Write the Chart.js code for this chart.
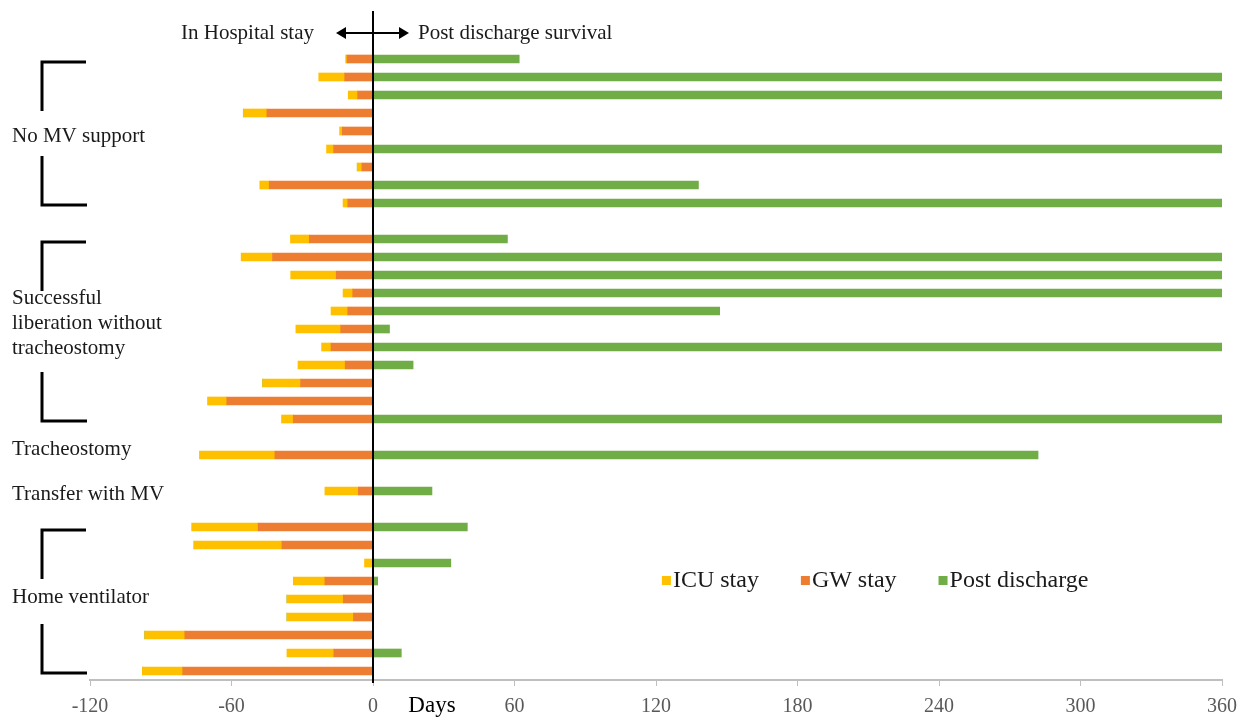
<!DOCTYPE html>
<html>
<head>
<meta charset="utf-8">
<script src="https://cdn.jsdelivr.net/npm/chart.js@4/dist/chart.umd.min.js"></script>
<style>
  html, body { margin: 0; padding: 0; background: #fff; }
  #wrap { width: 1248px; height: 717px; position: relative; }
</style>
</head>
<body>
<div id="wrap"><canvas id="stayChart"></canvas></div>
<script>
// one row per patient, null rows are the gaps between groups
const rows = [];
for (let i = 0; i < 35; i++) rows.push('r' + i);

// days in general ward (drawn to the left of 0)
const gwStay = [11, 12, 6.5, 45, 13, 16.7, 4.7, 44, 10.7, null,
  27, 42.6, 15.6, 8.6, 10.7, 13.7, 17.8, 11.8, 30.7, 62, 33.8, null,
  41.6, null, 6.2, null,
  48.7, 38.6, 0, 20.4, 12.6, 8.3, 79.8, 16.6, 80.7];

// days in ICU (stacked further left)
const icuStay = [0.6, 11, 4, 10, 1, 3, 2, 4, 2, null,
  8, 13.3, 19.3, 4.1, 7.1, 19, 4, 20, 16.1, 8, 5, null,
  32, null, 14.2, null,
  28.2, 37.3, 3.6, 13.4, 23.9, 28.2, 17, 19.9, 17.1];

// days of survival after discharge
const postDischarge = [62, 360, 360, 0, 0, 360, 0, 138, 360, null,
  57, 360, 360, 360, 147, 7, 360, 17, 0, 0, 360, null,
  282, null, 25, null,
  40, 0, 33, 2, 0, 0, 0, 12, 0];

const xTicks = [-120, -60, 0, 60, 120, 180, 240, 300, 360];

const groups = [
  { lines: ['No MV support'], row: 4, dy: 5, bracket: [0, 8] },
  { lines: ['Successful', 'liberation without', 'tracheostomy'], row: 15, dy: -6, bracket: [10, 20] },
  { lines: ['Tracheostomy'], row: 22, dy: -6, bracket: null },
  { lines: ['Transfer with MV'], row: 24, dy: 3, bracket: null },
  { lines: ['Home ventilator'], row: 30, dy: -2, bracket: [26, 34] }
];

const legendItems = [
  { text: 'ICU stay', color: '#FFC000' },
  { text: 'GW stay', color: '#ED7D31' },
  { text: 'Post discharge', color: '#70AD47' }
];

const serif = "'Liberation Serif', 'Times New Roman', serif";
const neg = arr => arr.map(v => v === null ? null : -v);

const decorations = {
  id: 'decorations',
  afterDatasetsDraw(chart) {
    const ctx = chart.ctx;
    const xs = chart.scales.x;
    const ys = chart.scales.y;
    const x0 = xs.getPixelForValue(0);
    ctx.save();

    // zero line
    ctx.strokeStyle = '#000';
    ctx.lineWidth = 2;
    ctx.beginPath();
    ctx.moveTo(x0, 11);
    ctx.lineTo(x0, chart.chartArea.bottom + 3);
    ctx.stroke();

    // double arrow + captions
    const ay = 33;
    const ax1 = x0 - 37, ax2 = x0 + 36;
    ctx.lineWidth = 2;
    ctx.beginPath();
    ctx.moveTo(ax1 + 4, ay);
    ctx.lineTo(ax2 - 4, ay);
    ctx.stroke();
    ctx.fillStyle = '#000';
    ctx.beginPath();
    ctx.moveTo(ax1, ay); ctx.lineTo(ax1 + 10, ay - 6); ctx.lineTo(ax1 + 10, ay + 6); ctx.closePath();
    ctx.moveTo(ax2, ay); ctx.lineTo(ax2 - 10, ay - 6); ctx.lineTo(ax2 - 10, ay + 6); ctx.closePath();
    ctx.fill();

    ctx.font = '21px ' + serif;
    ctx.fillStyle = '#1a1a1a';
    ctx.textBaseline = 'middle';
    ctx.textAlign = 'right';
    ctx.fillText('In Hospital stay', ax1 - 22, ay);
    ctx.textAlign = 'left';
    ctx.fillText('Post discharge survival', ax2 + 9, ay);

    // group labels and brackets
    groups.forEach(g => {
      const cy = ys.getPixelForValue(g.row) + g.dy;
      const n = g.lines.length;
      g.lines.forEach((t, i) => {
        ctx.fillText(t, 12, cy + (i - (n - 1) / 2) * 25);
      });
      if (g.bracket) {
        const top = ys.getPixelForValue(g.bracket[0]) + 3;
        const bot = ys.getPixelForValue(g.bracket[1]) + 2;
        ctx.strokeStyle = '#000';
        ctx.lineWidth = 3;
        ctx.beginPath();
        ctx.moveTo(86, top); ctx.lineTo(42, top); ctx.lineTo(42, top + 49);
        ctx.moveTo(42, bot - 49); ctx.lineTo(42, bot); ctx.lineTo(87, bot);
        ctx.stroke();
      }
    });

    // legend
    ctx.font = '24px ' + serif;
    let lx = xs.getPixelForValue(122.5);
    const ly = ys.getPixelForValue(29);
    legendItems.forEach(item => {
      ctx.fillStyle = item.color;
      ctx.fillRect(lx, ly - 5, 9, 9);
      ctx.fillStyle = '#1a1a1a';
      ctx.fillText(item.text, lx + 11, ly);
      lx += 11 + ctx.measureText(item.text).width + 42;
    });

    // axis title
    ctx.font = '23px ' + serif;
    ctx.fillStyle = '#000';
    ctx.textAlign = 'center';
    ctx.fillText('Days', xs.getPixelForValue(25), 706);
    ctx.restore();
  }
};

new Chart(document.getElementById('stayChart'), {
  type: 'bar',
  data: {
    labels: rows,
    datasets: [
      { label: 'GW stay', data: neg(gwStay), backgroundColor: '#ED7D31' },
      { label: 'ICU stay', data: neg(icuStay), backgroundColor: '#FFC000' },
      { label: 'Post discharge', data: postDischarge, backgroundColor: '#70AD47' }
    ]
  },
  options: {
    indexAxis: 'y',
    responsive: true,
    maintainAspectRatio: false,
    animation: false,
    barThickness: 8,
    layout: { padding: { top: 50, left: 90, right: 26, bottom: 0 } },
    plugins: { legend: { display: false }, tooltip: { enabled: false } },
    scales: {
      x: {
        stacked: true,
        min: -120,
        max: 360,
        afterBuildTicks: scale => { scale.ticks = xTicks.map(v => ({ value: v })); },
        afterFit: scale => { scale.height = 37; },
        grid: { display: true, drawOnChartArea: false, drawTicks: true, tickLength: 6, color: '#bfbfbf' },
        border: { color: '#bfbfbf', width: 2 },
        ticks: { color: '#595959', padding: 9, font: { family: serif, size: 20 } }
      },
      y: {
        stacked: true,
        display: false
      }
    }
  },
  plugins: [decorations]
});
</script>
</body>
</html>
